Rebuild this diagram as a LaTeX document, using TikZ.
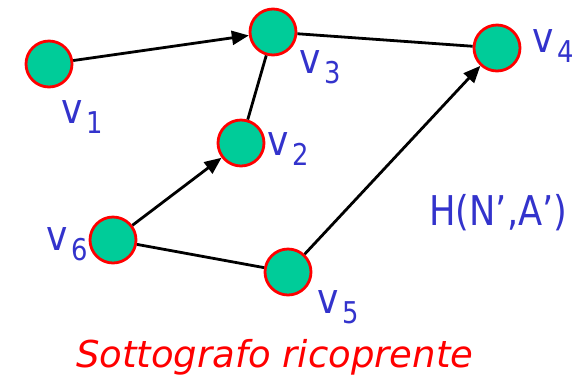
\documentclass[tikz,border=0pt]{standalone}
\usepackage{fontspec}
\setmainfont{DejaVu Sans}[FakeStretch=0.86]
\newfontfamily\capfont{DejaVu Sans}
\usetikzlibrary{arrows.meta}
\definecolor{nodegreen}{RGB}{0,204,153}
\definecolor{lblue}{RGB}{51,51,204}
\definecolor{tred}{RGB}{255,0,0}
\newcommand{\vlab}[1]{{\fontsize{42}{42}\selectfont v}\kern4pt\raisebox{-10pt}{\fontsize{30}{30}\selectfont #1}}
\begin{document}
\begin{tikzpicture}[x=1pt,y=-1pt,
  vert/.style={circle,fill=nodegreen,draw=tred,line width=2.8pt,minimum size=46pt,inner sep=0pt},
  lbl/.style={anchor=base west,inner sep=0pt,text=lblue},
  edge/.style={line width=2.8pt,black},
  arr/.style={edge,-{Triangle[length=17pt,width=14pt]}}]
\useasboundingbox (0,0) rectangle (585,376);
\node[vert] (v1) at (49,64) {};
\node[vert] (v3) at (273,32) {};
\node[vert] (v4) at (497,48) {};
\node[vert] (v2) at (241,143) {};
\node[vert] (v6) at (113,240) {};
\node[vert] (v5) at (288,272) {};
\draw[arr] (v1) -- (v3);
\draw[edge] (v3) -- (v4);
\draw[edge] (v3) -- (v2);
\draw[arr] (v6) -- (v2);
\draw[edge] (v6) -- (v5);
\draw[arr] (v5) -- (v4);
\node[lbl] (l1) at (61,123) {\vlab{1}};
\node[lbl] (l3) at (299,73) {\vlab{3}};
\node[lbl] (l4) at (532,52) {\vlab{4}};
\node[lbl] (l2) at (267,155) {\vlab{2}};
\node[lbl] (l6) at (46,250) {\vlab{6}};
\node[lbl] (l5) at (317,313) {\vlab{5}};
\node[lbl] (h) at (429,225) {\fontsize{41}{41}\selectfont H(N’,A’)};
\node[anchor=base west,inner sep=0pt,text=tred] (t) at (76,367) {\capfont\fontsize{37}{37}\selectfont\itshape Sottografo ricoprente};
\end{tikzpicture}
\end{document}
